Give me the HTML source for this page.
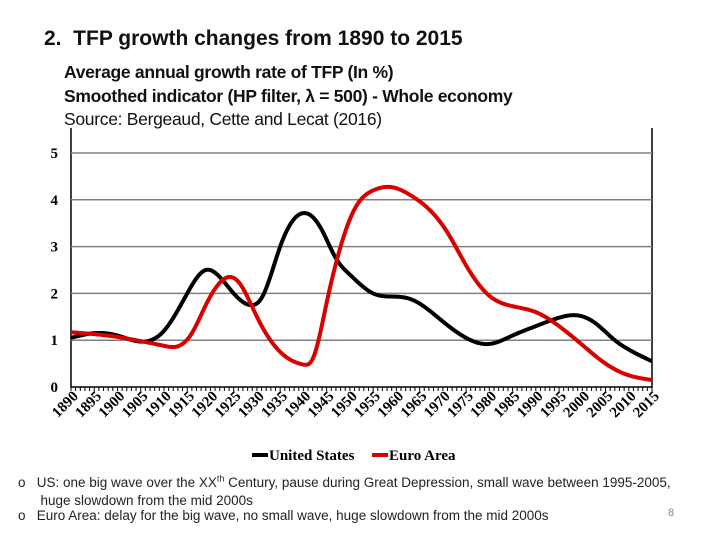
<!DOCTYPE html>
<html><head><meta charset="utf-8"><style>
body{margin:0;width:720px;height:540px;background:#fff;overflow:hidden;font-family:"Liberation Sans",sans-serif;position:relative}
.t{position:absolute;white-space:nowrap}
</style></head><body>
<div class="t" style="left:44px;top:27px;font-size:21px;font-weight:bold;color:#111">2.&nbsp; TFP growth changes from 1890 to 2015</div>
<div class="t" style="left:64px;top:61px;font-size:17.5px;line-height:23.5px;color:#111;letter-spacing:-0.3px"><b>Average annual growth rate of TFP (In %)</b><br><b>Smoothed indicator (HP filter, λ = 500) - Whole economy</b><br>Source: Bergeaud, Cette and Lecat (2016)</div>
<svg id="ch" width="720" height="540" style="position:absolute;left:0;top:0"></svg>
<div class="t" style="left:18px;top:474px;font-size:13.5px;line-height:18px;color:#222">o&nbsp;&nbsp; US: one big wave over the XX<sup style="font-size:9px;line-height:0">th</sup> Century, pause during Great Depression, small wave between 1995-2005,<br>&nbsp;&nbsp;&nbsp;&nbsp;&nbsp;&nbsp;huge slowdown from the mid 2000s</div>
<div class="t" style="left:18px;top:508px;font-size:13.5px;color:#222">o&nbsp;&nbsp; Euro Area: delay for the big wave, no small wave, huge slowdown from the mid 2000s</div>
<div class="t" style="left:668px;top:507px;font-size:11px;color:#888">8</div>
<script>
const usYears=[1890,1895,1900,1905,1910,1915,1919,1922,1925,1929,1931,1935,1941,1944,1947,1950,1955,1960,1963,1970,1975,1980,1985,1990,1995,1999,2003,2007,2010,2015];
const usValues=[1.05,1.15,1.1,0.97,1.2,2.0,2.5,2.35,2.0,1.75,1.9,3.0,3.7,3.35,2.75,2.4,2.0,1.93,1.88,1.4,1.05,0.92,1.1,1.3,1.48,1.53,1.35,1.0,0.8,0.55];
const euYears=[1890,1895,1900,1905,1910,1913,1916,1919,1921,1924,1926,1930,1935,1940,1942,1945,1948,1951,1955,1959,1963,1967,1971,1975,1980,1984,1990,1995,2000,2005,2010,2015];
const euValues=[1.17,1.13,1.07,0.98,0.88,0.87,1.15,1.75,2.1,2.35,2.25,1.5,0.75,0.48,0.6,1.8,3.0,3.8,4.2,4.27,4.1,3.8,3.3,2.6,1.95,1.75,1.6,1.3,0.9,0.5,0.25,0.15];
const yTicks=[0,1,2,3,4,5];
const xTickYears=[1890,1895,1900,1905,1910,1915,1920,1925,1930,1935,1940,1945,1950,1955,1960,1965,1970,1975,1980,1985,1990,1995,2000,2005,2010,2015];
const NS="http://www.w3.org/2000/svg",svg=document.getElementById('ch');
const X=y=>71+(y-1890)*(652-71)/125, Y=v=>387-v*46.8;
function mk(t,a){const e=document.createElementNS(NS,t);for(const k in a)e.setAttribute(k,a[k]);svg.appendChild(e);return e;}
let fr=mk('path',{d:`M71 128V387H652V128`,fill:'none',stroke:'#000','stroke-width':1.5});


yTicks.forEach(v=>{
 if(v>0){let g=mk('line',{x1:71,x2:652,y1:Y(v),y2:Y(v),stroke:'#808080','stroke-width':1.5});
 
 }
 let t=mk('text',{x:58,y:Y(v)+5,'font-family':'Liberation Serif',"font-size":15,'font-weight':'bold','text-anchor':'end'});t.textContent=v;
 
 
});
for(let y=1890;y<=2015;y++){let l=mk('line',{x1:X(y),x2:X(y),y1:387,y2:391,stroke:'#000','stroke-width':1});
 
 }
xTickYears.forEach(y=>{let t=mk('text',{x:X(y)+8,y:397,'font-family':'Liberation Serif',"font-size":15,'font-weight':'bold','text-anchor':'end',transform:`rotate(-45 ${X(y)+8} 397)`});t.textContent=y;
 
 });
function spline(xs,ys){const n=xs.length,h=[],a=[],l=[1],mu=[0],z=[0],c=new Array(n).fill(0),b=[],d=[];
 for(let i=0;i<n-1;i++)h[i]=xs[i+1]-xs[i];
 for(let i=1;i<n-1;i++)a[i]=3/h[i]*(ys[i+1]-ys[i])-3/h[i-1]*(ys[i]-ys[i-1]);
 for(let i=1;i<n-1;i++){l[i]=2*(xs[i+1]-xs[i-1])-h[i-1]*mu[i-1];mu[i]=h[i]/l[i];z[i]=(a[i]-h[i-1]*z[i-1])/l[i];}
 for(let j=n-2;j>=0;j--){c[j]=(j<n-1&&j>0?z[j]-mu[j]*c[j+1]:0);if(j===0)c[0]=0;b[j]=(ys[j+1]-ys[j])/h[j]-h[j]*(c[j+1]+2*c[j])/3;d[j]=(c[j+1]-c[j])/(3*h[j]);}
 return x=>{let i=0;while(i<n-2&&x>xs[i+1])i++;const t=x-xs[i];return ys[i]+b[i]*t+c[i]*t*t+d[i]*t*t*t;};}
function path(xs,vs){const f=spline(xs,vs);let d='';for(let x=xs[0];x<=xs[xs.length-1]+1e-9;x+=0.25)d+=(d?'L':'M')+X(x).toFixed(2)+','+Y(f(x)).toFixed(2);return d;}
let us=mk('path',{d:path(usYears,usValues),fill:'none',stroke:'#000','stroke-width':4,'stroke-linejoin':'round'});


let eu=mk('path',{d:path(euYears,euValues),fill:'none',stroke:'#d90000','stroke-width':4,'stroke-linejoin':'round'});


[['United States','#000',252],['Euro Area','#d90000',372]].forEach(([n,c,x])=>{
 let l=mk('line',{x1:x,x2:x+16,y1:455,y2:455,stroke:c,'stroke-width':4});
 
 
 let t=mk('text',{x:x+17,y:460,'font-family':'Liberation Serif','font-size':15,'font-weight':'bold'});t.textContent=n;
 
 
});
</script>
</body></html>
